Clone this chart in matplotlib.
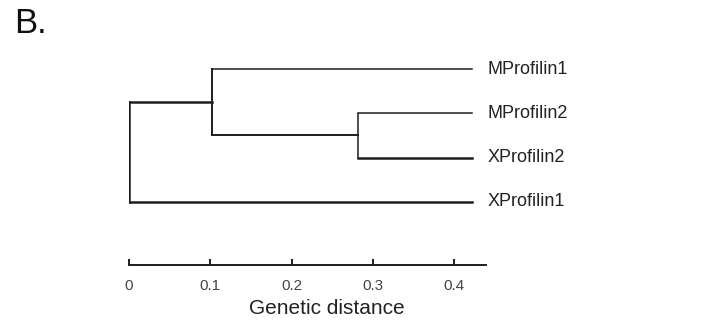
import matplotlib
matplotlib.use("Agg")
import matplotlib.pyplot as plt

plt.rcParams["font.family"] = ["Liberation Sans", "DejaVu Sans"]

# Data
leaf_labels = ["MProfilin1", "MProfilin2", "XProfilin2", "XProfilin1"]
leaf_y = [4, 3, 2, 1]
tip_distance = 0.422
node_a = 0.102   # MProfilin1 + (MProfilin2, XProfilin2)
node_b = 0.282   # MProfilin2 + XProfilin2
root = 0.0
ticks = [0, 0.1, 0.2, 0.3, 0.4]
tick_labels = ["0", "0.1", "0.2", "0.3", "0.4"]

W, H = 701, 327
fig = plt.figure(figsize=(W / 100, H / 100), dpi=100)
fig.patch.set_facecolor("white")

x0, x1 = 129, 486
ytop, ybot = 60, 265
ax = fig.add_axes([x0 / W, 1 - ybot / H, (x1 - x0) / W, (ybot - ytop) / H])
ax.set_xlim(0, (x1 - x0) / 813.0)
ax.set_ylim(-(ybot - 202) / 44.3 + 1, 4 + (69 - ytop) / 44.3)

c = "#1e1e1e"
thin = 1.1
thick = 1.8

yB = (leaf_y[1] + leaf_y[2]) / 2
yA = (leaf_y[0] + yB) / 2

# node B
ax.plot([node_b, node_b], [leaf_y[2], leaf_y[1]], color=c, lw=thin, solid_capstyle="butt")
ax.plot([node_b, tip_distance], [leaf_y[1], leaf_y[1]], color=c, lw=thin)
ax.plot([node_b, tip_distance], [leaf_y[2], leaf_y[2]], color=c, lw=thick)
# node A
ax.plot([node_a, node_a], [yB, leaf_y[0]], color=c, lw=thin + 0.3)
ax.plot([node_a, tip_distance], [leaf_y[0], leaf_y[0]], color=c, lw=thin)
ax.plot([node_a, node_b], [yB, yB], color=c, lw=thin + 0.3)
# root
ax.plot([root, root], [leaf_y[3], yA], color=c, lw=thick)
ax.plot([root, node_a], [yA, yA], color=c, lw=thick)
ax.plot([root, tip_distance], [leaf_y[3], leaf_y[3]], color=c, lw=thick)

for lab, y in zip(leaf_labels, leaf_y):
    ax.text(tip_distance + 0.019, y, lab, va="center", ha="left",
            fontsize=13, color="#222222")

for s in ["left", "top", "right"]:
    ax.spines[s].set_visible(False)
ax.spines["bottom"].set_color(c)
ax.spines["bottom"].set_linewidth(1.4)
ax.set_yticks([])
ax.set_xticks(ticks)
ax.set_xticklabels(tick_labels, fontsize=11, color="#444444")
ax.tick_params(axis="x", direction="in", length=4.5, width=1.4, color=c, pad=10)
ax.set_xlabel("Genetic distance", fontsize=15, color="#222222", va="center")
ax.xaxis.set_label_coords((327 - x0) / (x1 - x0), -(308 - ybot) / (ybot - ytop))

fig.text(14 / W, 1 - 33 / H, "B.", fontsize=25, color="#111111", va="baseline", ha="left")

fig.savefig("out.png", dpi=100, facecolor="white")
